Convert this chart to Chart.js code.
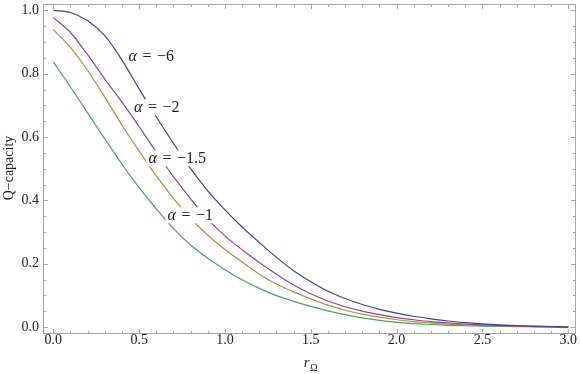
<!DOCTYPE html>
<html>
<head>
<meta charset="utf-8">
<script src="https://cdn.jsdelivr.net/npm/chart.js@4"></script>
<style>
  html, body { margin: 0; padding: 0; background: #fff; }
  #wrap { width: 581px; height: 374px; }
</style>
</head>
<body>
<div id="wrap"><canvas id="c" width="581" height="374"></canvas></div>
<script>
// ---- data ----
const rValues = [0.0,0.1,0.2,0.3,0.4,0.5,0.6,0.7,0.8,0.9,1.0,1.1,1.2,1.3,1.4,1.5,1.6,1.7,1.8,1.9,2.0,2.1,2.2,2.3,2.4,2.5,2.6,2.7,2.8,2.9,3.0];
const alphaM6  = [1.000,0.993,0.967,0.920,0.843,0.752,0.664,0.580,0.500,0.430,0.370,0.316,0.267,0.220,0.178,0.143,0.113,0.090,0.071,0.056,0.044,0.034,0.026,0.019,0.014,0.010,0.007,0.0045,0.0028,0.0014,0.000];
const alphaM2  = [0.977,0.930,0.860,0.783,0.710,0.633,0.552,0.475,0.405,0.341,0.288,0.244,0.204,0.167,0.133,0.105,0.082,0.064,0.050,0.039,0.030,0.023,0.017,0.013,0.0095,0.007,0.005,0.0032,0.002,0.001,0.000];
const alphaM15 = [0.939,0.883,0.810,0.726,0.637,0.556,0.477,0.406,0.343,0.290,0.245,0.205,0.167,0.136,0.111,0.089,0.069,0.053,0.041,0.031,0.023,0.017,0.013,0.009,0.007,0.005,0.0035,0.0024,0.0015,0.0007,0.000];
const alphaM1  = [0.837,0.758,0.676,0.594,0.514,0.440,0.373,0.311,0.259,0.217,0.181,0.149,0.122,0.099,0.081,0.065,0.051,0.039,0.029,0.021,0.015,0.011,0.008,0.0055,0.004,0.0028,0.002,0.0013,0.0008,0.0004,0.000];
const seriesNames = ['α = −6','α = −2','α = −1.5','α = −1'];
const xTickValues = [0.0,0.5,1.0,1.5,2.0,2.5,3.0];
const yTickValues = [0.0,0.2,0.4,0.6,0.8,1.0];
const xTitle = ['r','Ω'];
const yTitle = 'Q−capacity';

// ---- styling ----
const colors = ['rgb(66,64,168)','rgb(168,64,122)','rgb(166,150,64)','rgb(64,168,92)'];
// label anchor positions (data coordinates of label centres)
const labelPos = [[0.571,0.855],[0.603,0.694],[0.722,0.533],[0.798,0.353]];
const serif = '"Liberation Serif", "Times New Roman", serif';
const frameColor = '#a8a8a8';

function toPts(ys){ return rValues.map((x,i)=>({x:x, y:ys[i]})); }
const allSeries = [alphaM6, alphaM2, alphaM15, alphaM1];

const framePlugin = {
  id: 'framePlugin',
  beforeDatasetsDraw(chart){
    const {ctx, chartArea:a, scales:{x, y}} = chart;
    ctx.save();
    ctx.strokeStyle = frameColor;
    ctx.lineWidth = 1;
    ctx.strokeRect(Math.round(a.left)+0.5, Math.round(a.top)+0.5, Math.round(a.right-a.left)-1, Math.round(a.bottom-a.top)-1);
    ctx.beginPath();
    for (let k=0;k<=30;k++){
      const v = k/10;
      const px = Math.round(x.getPixelForValue(v))+0.5;
      const len = (k%5===0)?5:3;
      ctx.moveTo(px, a.bottom); ctx.lineTo(px, a.bottom-len);
      ctx.moveTo(px, a.top); ctx.lineTo(px, a.top+len);
    }
    for (let k=0;k<=20;k++){
      const v = k/20;
      const py = Math.round(y.getPixelForValue(v))+0.5;
      const len = (k%4===0)?5:3;
      ctx.moveTo(a.left, py); ctx.lineTo(a.left+len, py);
      ctx.moveTo(a.right, py); ctx.lineTo(a.right-len, py);
    }
    ctx.stroke();
    ctx.restore();
  },
  afterDatasetsDraw(chart){
    const {ctx, chartArea:a, scales:{x, y}} = chart;
    ctx.save();
    ctx.textBaseline = 'middle';
    const fs = 16, gap = 5.5;
    seriesNames.forEach((name, i) => {
      const cx = x.getPixelForValue(labelPos[i][0]);
      const cy = y.getPixelForValue(labelPos[i][1]);
      const parts = name.split(' ');
      const fonts = ['italic ' + fs + 'px ' + serif, fs + 'px ' + serif, fs + 'px ' + serif];
      const widths = parts.map((p, k) => { ctx.font = fonts[k]; return ctx.measureText(p).width; });
      const w = widths.reduce((s, v) => s + v, 0) + gap * (parts.length - 1);
      let xx = cx - w/2;
      ctx.fillStyle = '#fff';
      ctx.fillRect(xx-2, cy-fs*0.5, w+4, fs);
      ctx.fillStyle = '#222';
      ctx.textAlign = 'left';
      parts.forEach((p, k) => {
        ctx.font = fonts[k];
        ctx.fillText(p, xx, cy+1);
        xx += widths[k] + gap;
      });
    });
    // y title
    ctx.save();
    ctx.translate(9, 168);
    ctx.rotate(-Math.PI/2);
    ctx.textAlign = 'center';
    ctx.textBaseline = 'middle';
    ctx.font = '14px ' + serif;
    ctx.fillStyle = '#222';
    ctx.fillText(yTitle, 0, 0);
    ctx.restore();
    // x title r_Ω
    ctx.textBaseline = 'alphabetic';
    ctx.textAlign = 'left';
    ctx.fillStyle = '#222';
    ctx.font = 'italic 15px ' + serif;
    const rw = ctx.measureText(xTitle[0]).width;
    ctx.font = '10px ' + serif;
    const ow = ctx.measureText(xTitle[1]).width;
    const tx = (a.left + a.right)/2 + 1 - (rw+ow)/2;
    ctx.font = 'italic 15px ' + serif;
    ctx.fillText(xTitle[0], tx, 367);
    ctx.font = '10px ' + serif;
    ctx.fillText(xTitle[1], tx + rw + 0.5, 371);
    ctx.restore();
  }
};

new Chart(document.getElementById('c'), {
  type: 'line',
  data: {
    datasets: allSeries.map((s, i) => ({
      label: seriesNames[i],
      data: toPts(s),
      borderColor: colors[i],
      backgroundColor: colors[i],
      borderWidth: 1.2,
      pointRadius: 0,
      fill: false,
      cubicInterpolationMode: 'monotone'
    }))
  },
  options: {
    responsive: false,
    animation: false,
    events: [],
    layout: { padding: { top: 4, right: 5, left: 0, bottom: 0 } },
    plugins: { legend: { display: false }, tooltip: { enabled: false }, title: { display: false } },
    scales: {
      x: {
        type: 'linear',
        min: -0.06, max: 3.045,
        grid: { display: false, drawTicks: false, tickLength: 0 },
        border: { display: false },
        afterBuildTicks: (sc) => { sc.ticks = xTickValues.map(v => ({ value: v })); },
        afterFit: (sc) => { sc.height = 40; sc.paddingLeft = 0; sc.paddingRight = 0; sc.paddingTop = 0; sc.paddingBottom = 0; },
        ticks: {
          padding: -2,
          maxRotation: 0,
          autoSkip: false,
          color: '#222',
          font: { family: serif, size: 14 },
          callback: (v) => Number(v).toFixed(1)
        }
      },
      y: {
        type: 'linear',
        min: -0.022, max: 1.02,
        grid: { display: false, drawTicks: false, tickLength: 0 },
        border: { display: false },
        afterBuildTicks: (sc) => { sc.ticks = yTickValues.map(v => ({ value: v })); },
        afterFit: (sc) => { sc.width = 43; sc.paddingTop = 0; sc.paddingBottom = 0; sc.paddingLeft = 0; sc.paddingRight = 0; },
        ticks: {
          padding: 4,
          autoSkip: false,
          color: '#222',
          font: { family: serif, size: 14 },
          callback: (v) => Number(v).toFixed(1)
        }
      }
    }
  },
  plugins: [framePlugin]
});
</script>
</body>
</html>
